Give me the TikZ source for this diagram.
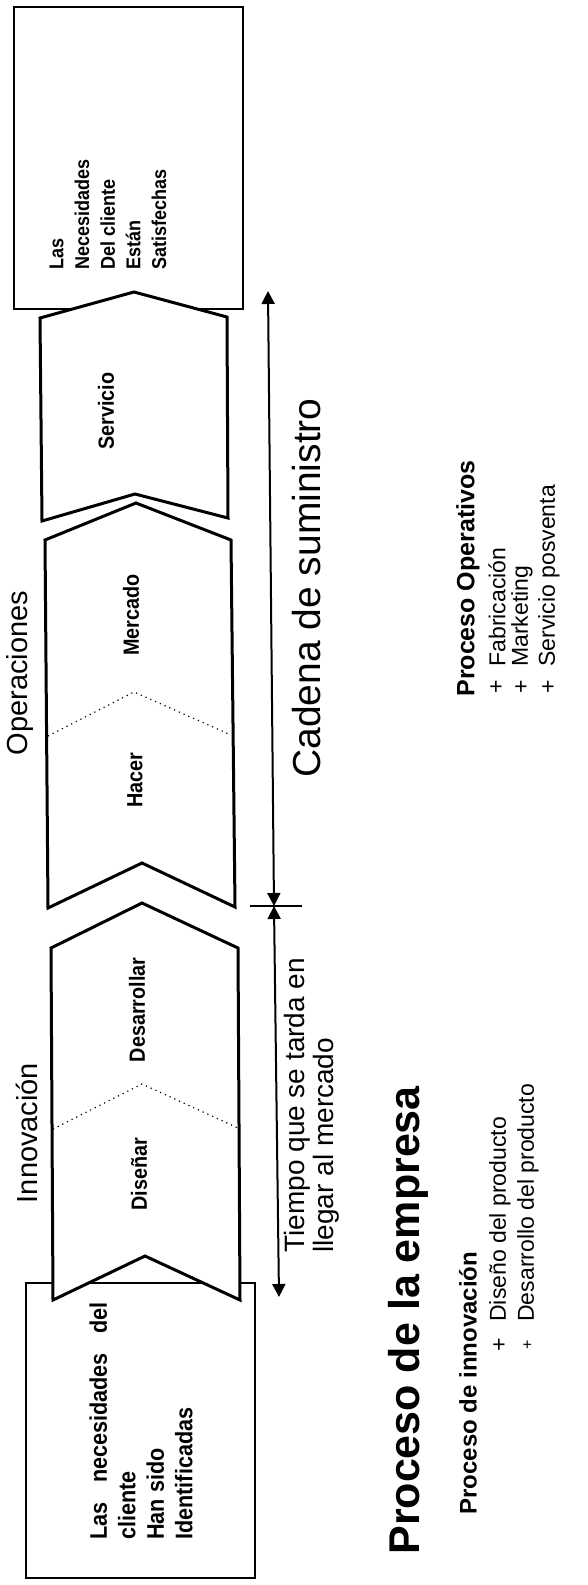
\documentclass[tikz,border=0pt]{standalone}
\usepackage{fontspec}
\setmainfont{Liberation Sans}
\newfontfamily\narrowfont[FakeStretch=0.9]{Liberation Sans}
\usetikzlibrary{arrows.meta}
\begin{document}
\begin{tikzpicture}[x=0.5pt,y=-0.5pt,
  chev/.style={draw=black,line width=1.5pt,fill=white,line join=miter},
  boxs/.style={draw=black,line width=1pt,fill=white},
  sepline/.style={draw=black,line width=0.6pt,dotted},
  lbl/.style={rotate=90,inner sep=0pt,font=\narrowfont\bfseries\fontsize{11}{13}\selectfont},
  boxtxt/.style={rotate=90,inner sep=0pt,align=left,anchor=west},
  head/.style={rotate=90,inner sep=0pt,font=\fontsize{14.5}{16}\selectfont},
  rtxt/.style={rotate=90,inner sep=0pt,align=left,anchor=west},
  arr/.style={line width=1pt,{Triangle[length=6.5pt,width=6.5pt]}-{Triangle[length=6.5pt,width=6.5pt]}}
]
\useasboundingbox (0,0) rectangle (588,1585);
\fill[white] (0,0) rectangle (588,1585);

% end boxes
\draw[boxs] (14,7) rectangle (243,309);
\draw[boxs] (26,1283) rectangle (255,1578);

% chevrons
\draw[chev] (40,318) -- (134,292) -- (227,317) -- (228,518) -- (135,494) -- (42,521) -- cycle;
\draw[chev] (45,540) -- (136,503) -- (231,540) -- (235,907) -- (142,863) -- (48,908) -- cycle;
\draw[sepline] (48,736) -- (134,692) -- (231,735);
\draw[chev] (51,948) -- (142,903) -- (238,948) -- (240,1300) -- (145,1256) -- (53,1300) -- cycle;
\draw[sepline] (53,1129) -- (142,1084) -- (238,1128);

% chevron labels
\node[lbl] (servicio) at (106,411) {Servicio};
\node[lbl] (mercado) at (131,615) {Mercado};
\node[lbl] (hacer) at (135,780) {Hacer};
\node[lbl] (desarrollar) at (137,1010) {Desarrollar};
\node[lbl] (disenar) at (139,1174) {Diseñar};

% box texts
\node[boxtxt,font=\narrowfont\bfseries\fontsize{10}{12.85}\selectfont] (satis) at (108,270)
  {Las\\Necesidades\\Del cliente\\Están\\Satisfechas};
\node[boxtxt,font=\narrowfont\bfseries\fontsize{12}{14.25}\selectfont] (ident) at (141,1540)
  {\makebox[118.5pt][s]{Las necesidades del}\\cliente\\Han sido\\Identificadas};

% group headings
\node[head] (innov) at (27,1133) {Innovación};
\node[head] (oper) at (20,673) {Operaciones};

% dimension arrows
\coordinate (tick) at (274,906);
\coordinate (tickL) at (250,906);
\coordinate (tickR) at (302,906);
\coordinate (topend) at (268,291);
\coordinate (botend) at (279,1297);
\draw[arr] (tick) -- (topend);
\draw[arr] (tick) -- (botend);
\draw[line width=1pt] (tickL) -- (tickR);

% right side texts
\node[rtxt,font=\fontsize{14}{14.5}\selectfont] (tiempo) at (312,1253)
  {Tiempo que se tarda en\\llegar al mercado};
\node[rtxt,font=\fontsize{19.5}{21}\selectfont] (cadena) at (307,778) {Cadena de suministro};
\node[rtxt,font=\bfseries\fontsize{21.5}{24}\selectfont] (titulo) at (408,1555) {Proceso de la empresa};

\node[rtxt,font=\bfseries\fontsize{12}{14}\selectfont] (pinnov) at (468,1515) {Proceso de innovación};
\node[rtxt,font=\fontsize{11.5}{13}\selectfont] (b1) at (500,1352) {+};
\node[rtxt,font=\fontsize{11.5}{13}\selectfont] (dis) at (500,1322) {Diseño del producto};
\node[rtxt,font=\fontsize{8}{9}\selectfont] (b2) at (528,1350) {+};
\node[rtxt,font=\fontsize{11.5}{13}\selectfont] (des) at (528,1322) {Desarrollo del producto};

\node[rtxt,font=\bfseries\fontsize{12.5}{14}\selectfont] (poper) at (468,697) {Proceso Operativos};
\node[rtxt,font=\fontsize{11.5}{13}\selectfont] (b3) at (497,694) {+};
\node[rtxt,font=\fontsize{11.5}{13}\selectfont] (fab) at (497,667) {Fabricación};
\node[rtxt,font=\fontsize{11.5}{13}\selectfont] (b4) at (522,694) {+};
\node[rtxt,font=\fontsize{11.5}{13}\selectfont] (mkt) at (522,667) {Marketing};
\node[rtxt,font=\fontsize{11.5}{13}\selectfont] (b5) at (549,694) {+};
\node[rtxt,font=\fontsize{11.5}{13}\selectfont] (spv) at (549,667) {Servicio posventa};
\end{tikzpicture}
\end{document}
